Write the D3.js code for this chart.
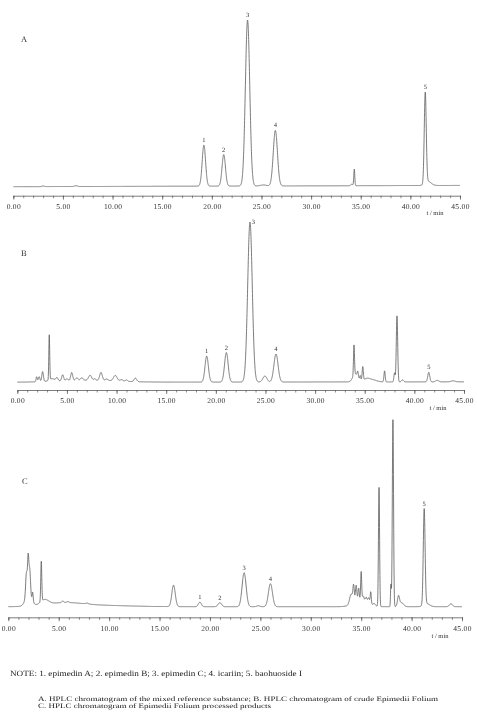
<!DOCTYPE html>
<html><head><meta charset="utf-8">
<script src="https://cdn.jsdelivr.net/npm/d3@7"></script>
<style>body{margin:0;background:#fff} svg{display:block;will-change:transform} text{text-rendering:geometricPrecision}</style>
</head><body><svg id="c" width="477" height="715"></svg>
<script>
// ---------- shared axis data ----------
const majorTicks = [0, 5, 10, 15, 20, 25, 30, 35, 40, 45];
const majorTickLabels = ["0.00", "5.00", "10.00", "15.00", "20.00", "25.00", "30.00", "35.00", "40.00", "45.00"];
const minorTicks = [0,1,2,3,4,5,6,7,8,9,10,11,12,13,14,15,16,17,18,19,20,21,22,23,24,25,26,27,28,29,30,31,32,33,34,35,36,37,38,39,40,41,42,43,44,45];
const axisUnit = "t / min";
const panelLetters = ["A", "B", "C"];
const compoundIds = ["1", "2", "3", "4", "5"];
const noteLines = [
  "NOTE: 1. epimedin A; 2. epimedin B; 3. epimedin C; 4. icariin; 5. baohuoside I",
  "A. HPLC chromatogram of the mixed reference substance; B. HPLC chromatogram of crude Epimedii Folium",
  "C. HPLC chromatogram of Epimedii Folium processed products"
];

// ---------- A: mixed reference substance (retention time min, response, peak sigma min) ----------
const peakTimesA   = [3.0, 6.3, 19.2, 21.2, 23.6, 25.2, 26.4, 34.1, 34.35, 41.5, 41.8];
const peakHeightsA = [0.7, 0.8, 41, 31.5, 166, 1, 55.5, 1.5, 16.5, 91, 4];
const peakWidthsA  = [0.1, 0.15, 0.17, 0.17, 0.22, 0.3, 0.21, 0.1, 0.05, 0.1, 0.3];
const baselineDriftA = 1.3;
const labelTimesA = [19.2, 21.2, 23.6, 26.4, 41.5];

// ---------- B: crude Epimedii Folium ----------
const peakTimesB   = [1.95, 2.2, 2.55, 3.22, 3.5, 4.0, 4.57, 5.0, 5.48, 6.0, 6.5, 7.33, 7.8, 8.43, 9.0, 9.87, 10.5, 11.0, 11.9, 7.0,
                      19.08, 21.06, 23.44, 24.94, 26.06, 33.92, 34.05, 34.3, 34.55, 34.8, 35.2, 35.8, 37.0, 38.0, 38.25, 38.8, 41.45, 42.3, 43.9];
const peakHeightsB = [5, 5, 10, 45, 2.5, 3, 6, 2, 8, 2.5, 2.5, 5, 1.5, 8, 1.5, 5.5, 1.5, 1.5, 3.5, 2,
                      26, 29.5, 160, 6, 28, 30, 8, 6, 5, 14, 3, 2, 11, 9, 66, 2, 9.5, 1.5, 1];
const peakWidthsB  = [0.06, 0.08, 0.08, 0.045, 0.3, 0.1, 0.1, 0.1, 0.1, 0.12, 0.12, 0.15, 0.1, 0.13, 0.15, 0.18, 0.15, 0.1, 0.13, 3,
                      0.17, 0.18, 0.23, 0.2, 0.21, 0.05, 0.25, 0.06, 0.06, 0.06, 0.3, 0.4, 0.06, 0.06, 0.07, 0.1, 0.1, 0.15, 0.2];
const baselineDriftB = 0.5;
const labelTimesB = [19.08, 21.06, 23.44, 26.06, 41.45];

// ---------- C: processed Epimedii Folium ----------
const peakTimesC   = [1.8, 1.97, 2.12, 2.0, 2.42, 3.27, 3.6, 5.5, 9.0, 5.4, 5.9, 7.8,
                      16.39, 19.0, 20.98, 23.39, 24.8, 26.0,
                      34.0, 34.25, 34.5, 34.75, 35.0, 35.2, 35.5, 35.75, 35.95, 35.0, 36.3,
                      36.77, 37.95, 38.15, 38.7, 39.0, 41.25, 41.5, 43.9];
const peakHeightsC = [24, 34, 26, 12, 9, 40, 5, 3.5, 1.3, 1.5, 1, 0.8,
                      21.5, 4.5, 4, 34, 1, 23,
                      10, 16, 16, 12, 28, 4, 4, 5, 12, 7, 2,
                      119, 22, 187, 10, 4, 96, 3, 3];
const peakWidthsC  = [0.08, 0.06, 0.08, 0.3, 0.05, 0.05, 0.4, 1.8, 3, 0.1, 0.1, 0.15,
                      0.17, 0.15, 0.17, 0.2, 0.15, 0.2,
                      0.15, 0.07, 0.07, 0.06, 0.05, 0.08, 0.08, 0.08, 0.05, 0.7, 0.1,
                      0.055, 0.04, 0.06, 0.1, 0.2, 0.09, 0.3, 0.15];
const baselineDriftC = 0;
const labelTimesC = [19.0, 20.98, 23.39, 26.0, 41.25];

// ---------- layout ----------
const panels = [
  {letter: panelLetters[0], times: peakTimesA, heights: peakHeightsA, widths: peakWidthsA, drift: baselineDriftA, labels: labelTimesA,
   x0: 13.3, x1: 460, base: 186.7, axisY: 195.7, letterPos: [21, 42], unitPos: [435, 215], labelDx: [0,0,0,0,0], labelDy: [0,0,0,0,0]},
  {letter: panelLetters[1], times: peakTimesB, heights: peakHeightsB, widths: peakWidthsB, drift: baselineDriftB, labels: labelTimesB,
   x0: 17.3, x1: 464, base: 382.3, axisY: 390, letterPos: [21, 256], unitPos: [438, 410], labelDx: [0,0,3.5,0,0], labelDy: [0,0,5,0,0]},
  {letter: panelLetters[2], times: peakTimesC, heights: peakHeightsC, widths: peakWidthsC, drift: baselineDriftC, labels: labelTimesC,
   x0: 8.3, x1: 462, base: 606.7, axisY: 617.3, letterPos: [22, 483.5], unitPos: [440, 638], labelDx: [0,0,0,0,0], labelDy: [0,0,0,0,0]}
];

const svg = d3.select("#c");
const serif = "'Liberation Serif', 'DejaVu Serif', serif";
const lineColor = "#5a5a5a";
const textColor = "#333";

panels.forEach(p => {
  const x = d3.scaleLinear().domain([0, 45]).range([p.x0, p.x1]);
  const y = d3.scaleLinear().domain([0, 100]).range([p.base, p.base - 100]);

  const signal = t => {
    let v = p.drift * t / 45;
    for (let i = 0; i < p.times.length; i++) {
      const z = (t - p.times[i]) / p.widths[i];
      if (Math.abs(z) < 8) v += p.heights[i] * Math.exp(-0.5 * z * z);
    }
    return v;
  };
  const ts = d3.range(0, 45.0001, 0.01);
  const pts = ts.map(t => [t, signal(t)]);

  svg.append("path")
    .datum(pts)
    .attr("fill", "none")
    .attr("stroke", lineColor)
    .attr("stroke-width", 0.8)
    .attr("stroke-linejoin", "round")
    .attr("d", d3.line().x(d => x(d[0])).y(d => y(d[1])));

  // axis
  const g = svg.append("g").attr("transform", `translate(0,${p.axisY})`);
  g.call(d3.axisBottom(x).tickValues(minorTicks).tickSize(2.5).tickFormat(""))
   .call(a => a.select(".domain").attr("stroke", lineColor).attr("stroke-width", 0.8))
   .call(a => a.selectAll(".tick line").attr("stroke", lineColor).attr("stroke-width", 0.7));
  const g2 = svg.append("g").attr("transform", `translate(0,${p.axisY})`);
  g2.call(d3.axisBottom(x).tickValues(majorTicks).tickSize(4).tickPadding(4)
      .tickFormat((d, i) => majorTickLabels[i]))
   .call(a => a.select(".domain").remove())
   .call(a => a.selectAll(".tick line").attr("stroke", lineColor).attr("stroke-width", 0.7))
   .call(a => a.selectAll(".tick text").attr("font-family", serif).attr("font-size", 7.5)
      .attr("fill", textColor).attr("letter-spacing", 0.3));

  svg.append("text").attr("x", p.unitPos[0]).attr("y", p.unitPos[1])
    .attr("text-anchor", "middle").attr("font-family", serif).attr("font-size", 6.5)
    .attr("fill", textColor).text(axisUnit);

  svg.append("text").attr("x", p.letterPos[0]).attr("y", p.letterPos[1])
    .attr("font-family", serif).attr("font-size", 8.5).attr("fill", textColor).text(p.letter);

  // peak labels
  p.labels.forEach((lt, i) => {
    let best = [lt, signal(lt)];
    for (let t = lt - 0.3; t <= lt + 0.3; t += 0.01) {
      const v = signal(t);
      if (v > best[1]) best = [t, v];
    }
    svg.append("text")
      .attr("x", x(best[0]) + p.labelDx[i])
      .attr("y", y(best[1]) - 3 + p.labelDy[i])
      .attr("text-anchor", "middle")
      .attr("font-family", serif).attr("font-size", 6.5).attr("fill", textColor)
      .text(compoundIds[i]);
  });
});

// note
const noteG = svg.append("g").attr("font-family", serif).attr("fill", "#222");
noteG.append("text").attr("x", 10).attr("y", 676).attr("font-size", 8)
  .attr("textLength", 292).attr("lengthAdjust", "spacingAndGlyphs").text(noteLines[0]);
noteG.append("text").attr("x", 38).attr("y", 700.6).attr("font-size", 6.8)
  .attr("textLength", 400).attr("lengthAdjust", "spacingAndGlyphs").text(noteLines[1]);
noteG.append("text").attr("x", 38).attr("y", 707.8).attr("font-size", 6.8)
  .attr("textLength", 233).attr("lengthAdjust", "spacingAndGlyphs").text(noteLines[2]);
</script>
</body></html>
